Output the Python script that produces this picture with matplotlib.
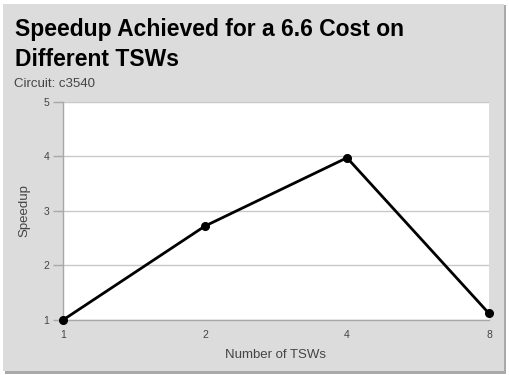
import matplotlib
matplotlib.use("Agg")
import matplotlib.pyplot as plt
from matplotlib.patches import Rectangle

# Speedup measured for each TSW count (circuit c3540, cost 6.6)
tsw_labels = ["1", "2", "4", "8"]
speedup = [1.0, 2.72, 3.97, 1.12]
y_ticks = [1, 2, 3, 4, 5]

plt.rcParams["font.family"] = ["Liberation Sans", "DejaVu Sans"]

fig = plt.figure(figsize=(5.1, 3.75), dpi=100)
fig.patch.set_facecolor("white")

W, H = 510.0, 375.0
# grey card with a soft drop shadow
fig.patches.append(Rectangle((5 / W, 1 / H), 501 / W, 369 / H, transform=fig.transFigure,
                             facecolor="#a9a9a9", edgecolor="none", zorder=-2))
fig.patches.append(Rectangle((3 / W, 4 / H), 501 / W, 367 / H, transform=fig.transFigure,
                             facecolor="#dcdcdc", edgecolor="none", zorder=-1))

ax = fig.add_axes([63 / W, 55 / H, 426 / W, 218.5 / H])
ax.set_facecolor("white")

x = list(range(len(tsw_labels)))
ax.plot(x, speedup, color="black", linewidth=2.0, marker="o", markersize=5.5,
        markerfacecolor="black", markeredgecolor="black", zorder=3, clip_on=False)

ax.set_xlim(0, len(tsw_labels) - 1)
ax.set_ylim(1, 5)
ax.set_xticks(x)
ax.set_xticklabels(tsw_labels)
ax.set_yticks(y_ticks)

ax.yaxis.grid(True, color="#c8c8c8", linewidth=1.0)
ax.set_axisbelow(True)

for side in ("top", "right"):
    ax.spines[side].set_visible(False)
for side in ("left", "bottom"):
    ax.spines[side].set_color("#a8a8a8")
    ax.spines[side].set_linewidth(1.0)

ax.tick_params(axis="y", length=7, width=1, color="#a8a8a8", labelsize=7.5,
               labelcolor="#444444", pad=3)
ax.tick_params(axis="x", length=0, labelsize=7.5, labelcolor="#444444", pad=7)

ax.set_xlabel("Number of TSWs", fontsize=9.5, color="#444444", labelpad=7)
ax.set_ylabel("Speedup", fontsize=9.5, color="#444444", labelpad=9)

fig.text(15 / W, 1 - 36 / H, "Speedup Achieved for a 6.6 Cost on", fontsize=16.5,
         fontweight="bold", color="black", ha="left", va="baseline")
fig.text(15 / W, 1 - 66 / H, "Different TSWs", fontsize=16.5,
         fontweight="bold", color="black", ha="left", va="baseline")
fig.text(14 / W, 1 - 87 / H, "Circuit: c3540", fontsize=9.5, color="#444444",
         ha="left", va="baseline")

fig.savefig("out.png", dpi=100)
